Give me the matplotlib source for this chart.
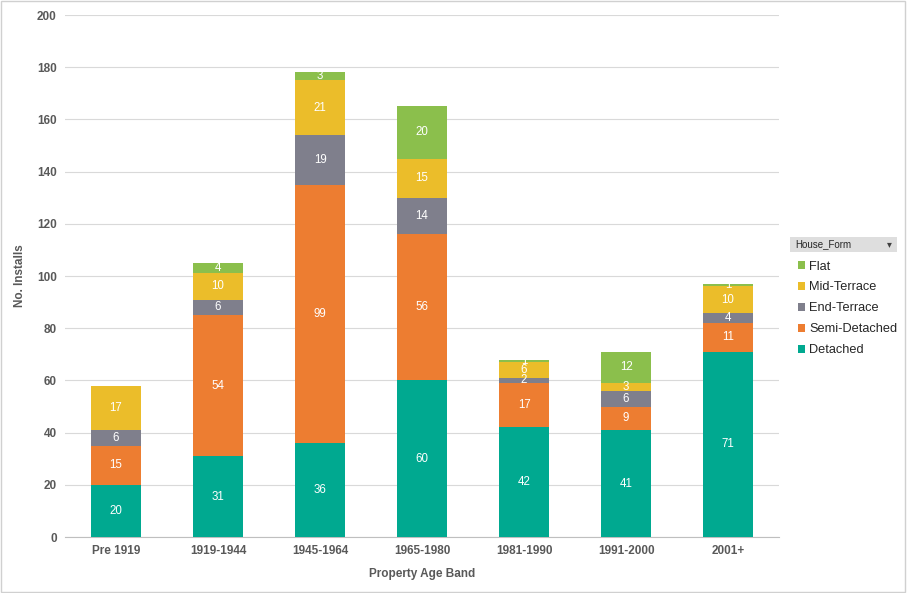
import numpy as np
import matplotlib.pyplot as plt
from matplotlib.patches import Patch, Rectangle

plt.rcParams['font.family'] = ['Liberation Sans', 'DejaVu Sans']

# data
bands = ['Pre 1919', '1919-1944', '1945-1964', '1965-1980', '1981-1990', '1991-2000', '2001+']
detached = [20, 31, 36, 60, 42, 41, 71]
semi_detached = [15, 54, 99, 56, 17, 9, 11]
end_terrace = [6, 6, 19, 14, 2, 6, 4]
mid_terrace = [17, 10, 21, 15, 6, 3, 10]
flat = [0, 4, 3, 20, 1, 12, 1]

series = [
    ('Detached', detached, '#00a990'),
    ('Semi-Detached', semi_detached, '#ed7d31'),
    ('End-Terrace', end_terrace, '#7f7f8c'),
    ('Mid-Terrace', mid_terrace, '#ebbd2a'),
    ('Flat', flat, '#8bbf4c'),
]

fig = plt.figure(figsize=(9.07, 5.93), dpi=100)
ax = fig.add_axes([0.0717, 0.0944, 0.7873, 0.8803])

x = np.arange(len(bands))
bottom = np.zeros(len(bands))
for name, vals, col in series:
    vals = np.array(vals, dtype=float)
    ax.bar(x, vals, 0.49, bottom=bottom, color=col, label=name, zorder=3)
    for xi, b, v in zip(x, bottom, vals):
        if v > 0:
            ax.text(xi, b + v / 2, str(int(v)), ha='center', va='center',
                    color='white', fontsize=8.3, zorder=4)
    bottom += vals

ax.set_xlim(-0.5, len(bands) - 0.5)
ax.set_ylim(0, 200)
ax.set_yticks(np.arange(0, 201, 20))
ax.set_xticks(x)
ax.set_xticklabels(bands)
ax.grid(axis='y', color='#d9d9d9', linewidth=0.8, zorder=0)
for s in ['top', 'right', 'left']:
    ax.spines[s].set_visible(False)
ax.spines['bottom'].set_color('#bfbfbf')
ax.tick_params(length=0, labelsize=8.5, colors='#595959', pad=6)
for lab in ax.get_xticklabels() + ax.get_yticklabels():
    lab.set_fontweight('bold')
ax.set_ylabel('No. Installs', fontsize=8.5, fontweight='bold', color='#595959', labelpad=8)
ax.set_xlabel('Property Age Band', fontsize=8.5, fontweight='bold', color='#595959', labelpad=8)

# legend header
fig.patches.append(Rectangle((790 / 907, 1 - 252 / 593), 107 / 907, 15 / 593,
                             transform=fig.transFigure, facecolor='#dedede',
                             edgecolor='none'))
fig.text(795 / 907, 1 - 244.5 / 593, 'House_Form', fontsize=7, color='#262626', va='center')
fig.text(889 / 907, 1 - 244.5 / 593, '▾', fontsize=7, color='#404040', va='center', ha='center')

handles = [Patch(facecolor=col, label=name) for name, vals, col in series[::-1]]
fig.legend(handles=handles, loc='upper left', bbox_to_anchor=(786 / 907, 1 - 249 / 593),
           frameon=False, fontsize=9.2, handlelength=0.55, handleheight=0.55,
           handletextpad=0.35, labelspacing=0.7, labelcolor='#262626')

# outer border
fig.patches.append(Rectangle((0.001, 0.002), 0.997, 0.996, transform=fig.transFigure,
                             fill=False, edgecolor='#d0d0d0', linewidth=1))

fig.savefig('out.png', dpi=100)
